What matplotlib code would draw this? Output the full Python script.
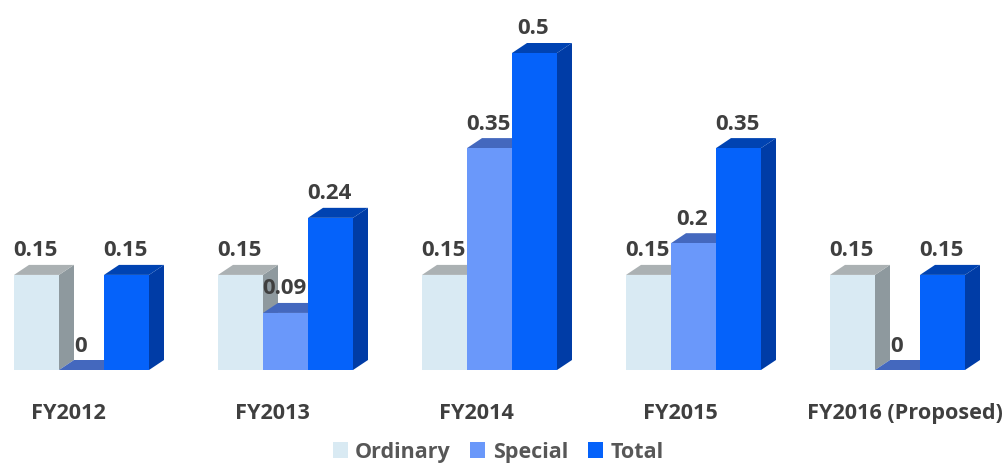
import matplotlib
matplotlib.use('Agg')
import matplotlib.pyplot as plt
from matplotlib.patches import Polygon, Patch

categories = ['FY2012', 'FY2013', 'FY2014', 'FY2015', 'FY2016 (Proposed)']
ordinary = [0.15, 0.15, 0.15, 0.15, 0.15]
special = [0, 0.09, 0.35, 0.2, 0]
total = [0.15, 0.24, 0.5, 0.35, 0.15]
series_names = ['Ordinary', 'Special', 'Total']

# front, top, side
COLORS = {
    'Ordinary': ('#D9EAF3', '#ABB1B3', '#8E999E'),
    'Special': ('#6A98FA', '#4468BE', '#3F62B5'),
    'Total': ('#0562FA', '#0043B2', '#003CA6'),
}
TEXT = '#3F3F3F'
LEGEND_TEXT = '#575757'
FONT = 'Open Sans'

# pixel-ish layout, axes fills the whole figure
W, H = 1008, 464
GROUP_STEP = 204.0
BAR_W = 45 / GROUP_STEP
DX = 15 / GROUP_STEP
DY = 10 / 634.0


def draw_bar(ax, x, val, name):
    front, top, side = COLORS[name]
    ax.add_patch(Polygon([(x, 0), (x + BAR_W, 0), (x + BAR_W + DX, DY), (x + BAR_W + DX, val + DY), (x + BAR_W, val)],
                         closed=True, fc=side, ec='none'))
    ax.add_patch(Polygon([(x, val), (x + BAR_W, val), (x + BAR_W + DX, val + DY), (x + DX, val + DY)],
                         closed=True, fc=top, ec='none'))
    if val > 0:
        ax.add_patch(Polygon([(x, 0), (x + BAR_W, 0), (x + BAR_W, val), (x, val)],
                             closed=True, fc=front, ec='none'))
    ax.text(x + BAR_W / 2 - 0.007, val + 25 / 634.0, f'{val:g}', ha='center', va='center',
            fontsize=16, fontweight='bold', color=TEXT, family=FONT)


def main():
    fig = plt.figure(figsize=(W / 100, H / 100), dpi=100)
    ax = fig.add_axes([0, 0, 1, 1])
    # group i starts at 14 + 204*i px, baseline at 371 px, 634 px per unit
    ax.set_xlim(-14 / GROUP_STEP, (W - 14) / GROUP_STEP)
    ax.set_ylim(-(H - 371) / 634.0, 371 / 634.0)
    ax.axis('off')

    for i, cat in enumerate(categories):
        for j, (name, vals) in enumerate(zip(series_names, [ordinary, special, total])):
            draw_bar(ax, i + j * BAR_W, vals[i], name)
        cx = i + 54 / GROUP_STEP if i < 4 else i + 75 / GROUP_STEP
        ax.text(cx, -43 / 634.0, cat, ha='center', va='center', fontsize=15.6,
                fontweight='bold', color=TEXT, family=FONT)

    handles = [Patch(fc=COLORS[n][0], ec='none') for n in series_names]
    leg = fig.legend(handles, series_names, ncol=3, loc='center', bbox_to_anchor=(498 / W, 1 - 453 / H),
                     frameon=False, handlelength=0.7, handleheight=0.7, handletextpad=0.35, columnspacing=0.9,
                     prop={'family': FONT, 'weight': 'bold', 'size': 15.5})
    for t in leg.get_texts():
        t.set_color(LEGEND_TEXT)

    fig.savefig('out.png', dpi=100)
    plt.close(fig)


if __name__ == "__main__":
    main()
